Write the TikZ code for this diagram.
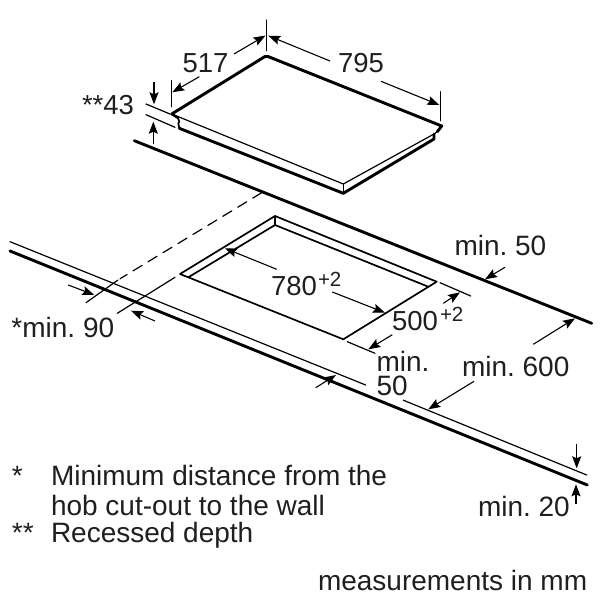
\documentclass[tikz,border=0pt]{standalone}
\usepackage{fontspec}
\setmainfont{Liberation Sans}
\usetikzlibrary{arrows.meta}
\tikzset{
  thinline/.style={line width=1.2pt,line cap=round,line join=round},
  midline/.style={line width=1.7pt,line cap=round,line join=round},
  thickline/.style={line width=2.9pt,line cap=round,line join=round},
  dimline/.style={line width=1.1pt,-{Stealth[length=12pt,width=9pt,inset=2pt]}},
  label/.style={anchor=base west,inner sep=0pt,outer sep=0pt,text=black!88,font=\frenchspacing\fontsize{28}{24}\selectfont},
  numlabel/.style={label,font=\fontsize{27.5}{27}\selectfont},
  suplabel/.style={anchor=base west,inner sep=0pt,outer sep=0pt,text=black!88,font=\fontsize{20.5}{20.5}\selectfont},
}
\begin{document}
\begin{tikzpicture}[x=1pt,y=-1pt]
\useasboundingbox (0,0) rectangle (600,600);
\fill[white] (0,0) rectangle (600,600);
% hob
\coordinate (hT) at (266.7,55.7);
\coordinate (hL) at (171.7,114);
\coordinate (hR) at (441.7,126);
\coordinate (hF) at (343.3,184);
\coordinate (hFb) at (343.3,193.3);
\draw[thickline] (hL) -- (265,56.5) -- (268,56.5) -- (hR) -- (437.3,131.7);
\draw[thickline,line width=2.4pt] (hL) -- (177.5,117.5);
\draw[midline] (hL) -- (178,118) -- (179.3,121.7) -- (178.3,123.3) -- (179.3,128.3);
\draw[thinline] (hL) -- (hF) -- (434,134) -- (437.3,131.7);
\draw[thinline] (hF) -- (hFb);
\draw[thickline] (179.3,128.3) -- (hFb) -- (434,139) -- (434,134);
% worktop lines
\draw[thickline] (134.3,140.7) -- (591.7,323.3);
\draw[thickline] (10,251) -- (587.3,485);
\draw[thinline] (10,241.7) -- (365.7,385);
\draw[thinline] (403.3,400.2) -- (586.7,475);
% dashed wall line
\draw[thinline,dash pattern=on 10.5pt off 7pt] (261.7,192.7) -- (120,278.8);
\draw[thinline] (118,280) -- (86,302.7);
\draw[thinline] (175,277.3) -- (117.3,313.3);
% cut-out
\coordinate (cT) at (275,216);
\coordinate (cL) at (180,274);
\coordinate (cR) at (436.7,281.7);
\coordinate (cB) at (343.3,339.3);
\coordinate (iT) at (275,225);
\coordinate (iL) at (188.3,277.3);
\coordinate (iR) at (428.3,286.7);
\draw[midline] (cL) -- (cT) -- (cR) -- (cB) -- (iL) -- (cL);
\draw[midline] (iL) -- (iT) -- (iR);
\draw[thinline] (cT) -- (iT);
% extension lines
\draw[thinline] (266.7,20) -- (266.7,50.7);
\draw[thinline] (171.7,80.7) -- (171.7,106.7);
\draw[thinline] (440.3,91.7) -- (440.3,120.7);
\draw[thinline] (146,104) -- (170,114);
\draw[thinline] (146,114.7) -- (175,127.3);
\draw[thinline] (440,282.7) -- (470.7,296);
\draw[thinline] (347.3,341.7) -- (375,353.3);
% dimension arrows
\draw[dimline] (234,54) -- (265.5,35.5);
\draw[dimline] (199.3,76.7) -- (172.3,92.3);
\draw[dimline] (330,61) -- (268.3,35.7);
\draw[dimline] (381,81.3) -- (439.3,105);
\draw[dimline] (154,81.7) -- (154,104.3);
\draw[dimline] (153.3,144) -- (153.3,121.7);
\draw[dimline] (68.3,285) -- (94.3,295);
\draw[dimline] (155,321) -- (131,310.7);
\draw[dimline] (276.7,269.3) -- (225,248.3);
\draw[dimline] (332.3,292) -- (385,312.7);
\draw[dimline] (443.3,303.3) -- (460,292.3);
\draw[dimline] (392.3,334.7) -- (368.3,349.3);
\draw[dimline] (505,267.3) -- (485,279.3);
\draw[dimline] (533.3,344.3) -- (575,318.3);
\draw[dimline] (474,381.3) -- (428.3,409.3);
\draw[dimline] (315.7,387.7) -- (336,375);
\draw[dimline] (576.7,444.3) -- (576.7,468.3);
\draw[dimline] (576,504.3) -- (576,484.3);
% labels
\node[numlabel] (t517) at (182.5,72.7) {517};
\node[numlabel] (t795) at (338,72.7) {795};
\node[numlabel] (t43) at (82,114) {**43};
\node[numlabel] (t780) at (271,295) {780};
\node[suplabel] (s780) at (318,286) {+2};
\node[numlabel] (t500) at (392,330.7) {500};
\node[suplabel] (s500) at (440,321) {+2};
\node[label] (tm50a) at (454.5,255) {min. 50};
\node[label] (t90) at (11.5,337.7) {*min. 90};
\node[label,align=left] (tmin) at (376.5,395) {min.\\50};
\node[label] (t600) at (462,376.7) {min. 600};
\node[label] (t20) at (478,516) {min. 20};
\node[label] (n1a) at (12,485) {*};
\node[label] (n1b) at (51,485) {Minimum distance from the};
\node[label] (n1c) at (51,515) {hob cut-out to the wall};
\node[label] (n2a) at (12,542) {**};
\node[label] (n2b) at (51,542) {Recessed depth};
\node[label] (mm) at (318,590) {measurements in mm};
\end{tikzpicture}
\end{document}
